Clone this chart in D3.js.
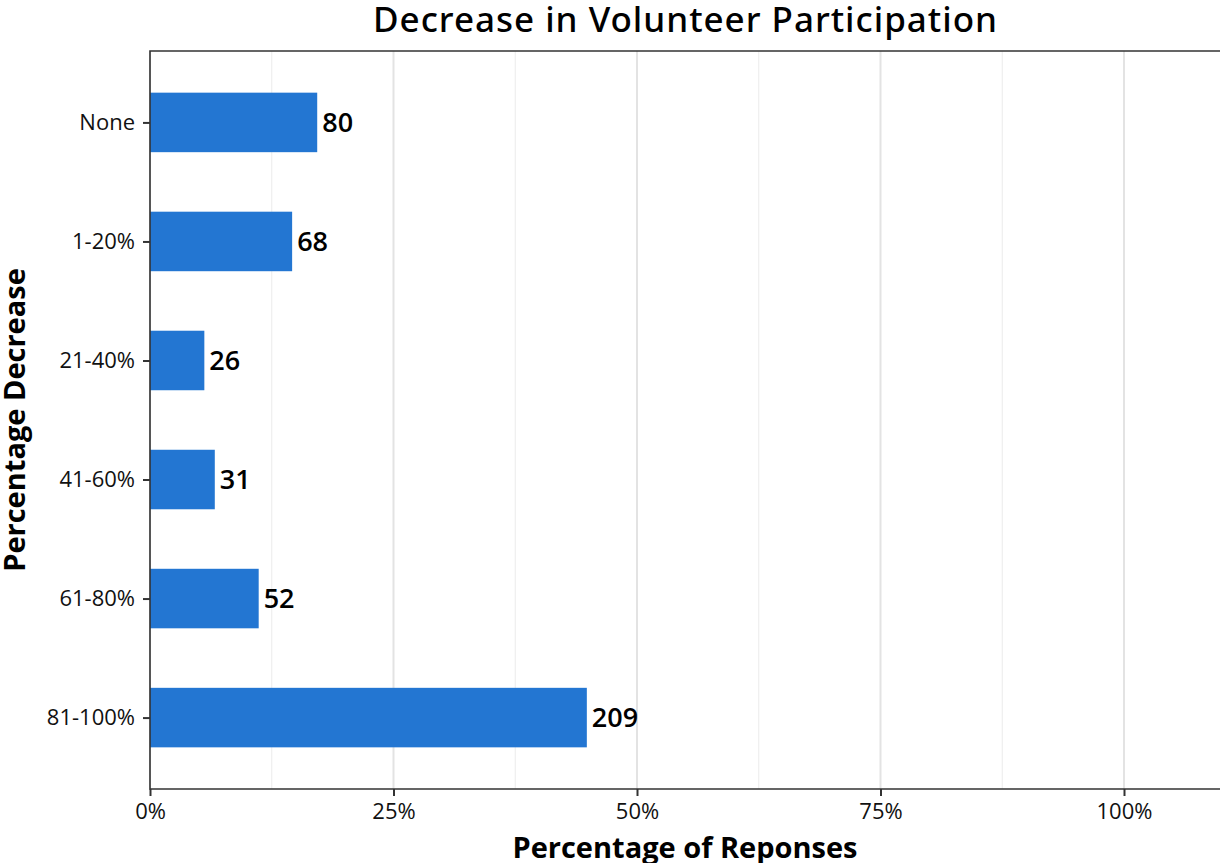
<!DOCTYPE html>
<html>
<head>
<meta charset="utf-8">
<script src="https://cdn.jsdelivr.net/npm/d3@7"></script>
<style>
  html, body { margin: 0; padding: 0; background: #fff; }
  svg { display: block; }
</style>
</head>
<body>
<svg id="chart" width="1220" height="863"></svg>
<script>
// Survey responses: how much did volunteer participation drop?
const categories = ["None", "1-20%", "21-40%", "41-60%", "61-80%", "81-100%"];
const counts = [80, 68, 26, 31, 52, 209];
const xTickValues = [0, 0.25, 0.5, 0.75, 1];
const xTickLabels = ["0%", "25%", "50%", "75%", "100%"];
const minorTickValues = [0.125, 0.375, 0.625, 0.875, 1.125];

const total = d3.sum(counts);
const data = categories.map((c, i) => ({ cat: c, n: counts[i], share: counts[i] / total }));

const svg = d3.select("#chart");
const panel = { left: 150, right: 1222, top: 51, bottom: 789 };

const x = d3.scaleLinear().domain([0, 1]).range([150, 1124]);
const y = d3.scalePoint().domain(categories).range([panel.top, panel.bottom]).padding(0.6);
const barH = y.step() * 0.5;

const tickFont = "'Open Sans', 'Noto Sans', sans-serif";

// grid (minor then major), kept inside the panel
const gridG = svg.append("g");
gridG.selectAll("line.minor").data(minorTickValues.filter(v => x(v) < panel.right)).join("line")
  .attr("class", "minor")
  .attr("x1", d => x(d)).attr("x2", d => x(d))
  .attr("y1", panel.top).attr("y2", panel.bottom)
  .attr("stroke", "#ebebeb").attr("stroke-width", 1);
gridG.selectAll("line.major").data(xTickValues).join("line")
  .attr("class", "major")
  .attr("x1", d => x(d)).attr("x2", d => x(d))
  .attr("y1", panel.top).attr("y2", panel.bottom)
  .attr("stroke", "#e3e3e3").attr("stroke-width", 2);

// bars
svg.append("g").selectAll("rect").data(data).join("rect")
  .attr("x", x(0))
  .attr("y", d => y(d.cat) - barH / 2)
  .attr("width", d => x(d.share) - x(0))
  .attr("height", barH)
  .attr("fill", "#2376d2");

// value labels
svg.append("g").selectAll("text").data(data).join("text")
  .attr("x", d => x(d.share) + 5)
  .attr("y", d => y(d.cat))
  .attr("dy", "0.36em")
  .attr("font-family", tickFont)
  .attr("font-weight", 600)
  .attr("font-size", 27)
  .attr("fill", "#000")
  .text(d => d.n);

// panel border (top, left, bottom)
svg.append("path")
  .attr("d", `M${panel.right},${panel.top}H${panel.left}V${panel.bottom}H${panel.right}`)
  .attr("fill", "none").attr("stroke", "#333").attr("stroke-width", 1.6);

// y axis
const yAxis = svg.append("g").attr("transform", `translate(${panel.left},0)`)
  .call(d3.axisLeft(y).tickSize(7).tickPadding(8));
yAxis.select(".domain").remove();
yAxis.attr("font-size", null).attr("font-family", null);
yAxis.selectAll(".tick line").attr("stroke", "#333").attr("stroke-width", 2);
yAxis.selectAll(".tick text")
  .style("font-family", tickFont).style("font-size", "22px").attr("fill", "#111");

// x axis
const xAxis = svg.append("g").attr("transform", `translate(0,${panel.bottom})`)
  .call(d3.axisBottom(x).tickValues(xTickValues).tickFormat((d, i) => xTickLabels[i]).tickSize(7).tickPadding(7));
xAxis.select(".domain").remove();
xAxis.attr("font-size", null).attr("font-family", null);
xAxis.selectAll(".tick line").attr("stroke", "#333").attr("stroke-width", 2);
xAxis.selectAll(".tick text")
  .style("font-family", tickFont).style("font-size", "22px").attr("fill", "#111");

// titles
svg.append("text")
  .attr("x", 685).attr("y", 32)
  .attr("text-anchor", "middle")
  .attr("font-family", "'Noto Sans', 'Open Sans', sans-serif")
  .attr("font-weight", 500)
  .attr("font-size", 35)
  .attr("textLength", 624)
  .attr("lengthAdjust", "spacing")
  .attr("fill", "#000")
  .text("Decrease in Volunteer Participation");

svg.append("text")
  .attr("x", 685).attr("y", 858)
  .attr("text-anchor", "middle")
  .attr("font-family", tickFont)
  .attr("font-weight", 700)
  .attr("font-size", 29)
  .attr("fill", "#000")
  .text("Percentage of Reponses");

svg.append("text")
  .attr("transform", `translate(25,${(panel.top + panel.bottom) / 2}) rotate(-90)`)
  .attr("text-anchor", "middle")
  .attr("font-family", tickFont)
  .attr("font-weight", 700)
  .attr("font-size", 29)
  .attr("fill", "#000")
  .text("Percentage Decrease");
</script>
</body>
</html>
